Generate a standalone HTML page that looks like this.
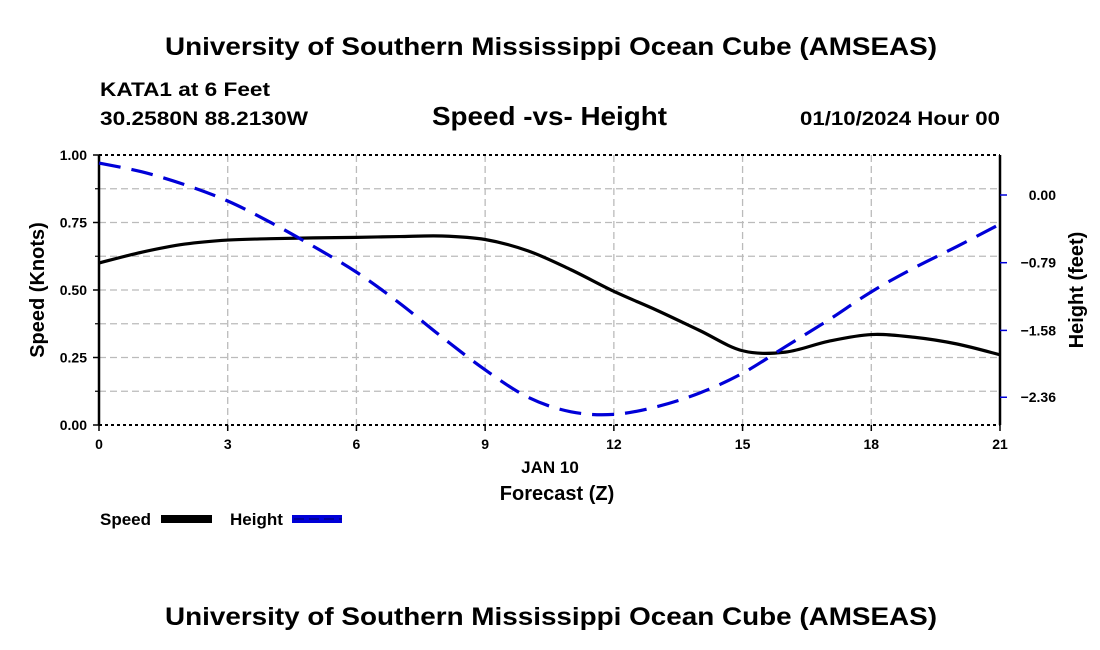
<!DOCTYPE html>
<html><head><meta charset="utf-8"><style>html,body{margin:0;padding:0;background:#fff}svg{display:block}text{font-family:"Liberation Sans",sans-serif;font-weight:bold;fill:#000}</style></head>
<body>
<svg id="chart" width="1100" height="650" viewBox="0 0 1100 650" xmlns="http://www.w3.org/2000/svg">
<rect width="1100" height="650" fill="#fff"/>
<text x="165" y="55" font-size="25" textLength="772" lengthAdjust="spacingAndGlyphs">University of Southern Mississippi Ocean Cube (AMSEAS)</text>
<text x="100" y="96" font-size="19" textLength="170" lengthAdjust="spacingAndGlyphs">KATA1 at 6 Feet</text>
<text x="100" y="125" font-size="19" textLength="208" lengthAdjust="spacingAndGlyphs">30.2580N  88.2130W</text>
<text x="432" y="125" font-size="26" textLength="235" lengthAdjust="spacingAndGlyphs">Speed -vs- Height</text>
<text x="800" y="125" font-size="19" textLength="200" lengthAdjust="spacingAndGlyphs">01/10/2024 Hour 00</text>
<g id="grid"></g>
<g id="axes"></g>
<g id="series"></g>
<text x="550" y="473" font-size="17" text-anchor="middle">JAN 10</text>
<text x="557" y="500" font-size="20" text-anchor="middle">Forecast (Z)</text>
<text transform="translate(44,290) rotate(-90)" font-size="20" text-anchor="middle">Speed (Knots)</text>
<text transform="translate(1083,290) rotate(-90)" font-size="20" text-anchor="middle">Height (feet)</text>
<g>
<text x="100" y="525" font-size="17">Speed</text>
<rect x="161" y="515" width="51" height="8" fill="#000"/>
<text x="230" y="525" font-size="17">Height</text>
<rect x="292" y="515" width="50" height="8" fill="#0000d8"/>
<line x1="294" y1="519" x2="342" y2="519" stroke="#000060" stroke-width="1" stroke-dasharray="10,5"/>
</g>
<text x="165" y="625" font-size="25" textLength="772" lengthAdjust="spacingAndGlyphs">University of Southern Mississippi Ocean Cube (AMSEAS)</text>
</svg>
<script>
const hours = [0,1,2,3,4,5,6,7,8,9,10,11,12,13,14,15,16,17,18,19,20,21];
const speed = [0.60,0.64,0.67,0.685,0.69,0.693,0.695,0.698,0.70,0.687,0.645,0.575,0.495,0.425,0.35,0.275,0.27,0.31,0.335,0.325,0.30,0.26];
const heightFt = [0.373,0.27,0.12,-0.07,-0.32,-0.6,-0.9,-1.26,-1.66,-2.04,-2.36,-2.53,-2.56,-2.47,-2.31,-2.08,-1.77,-1.46,-1.13,-0.85,-0.6,-0.34];
const xTicks = [0,3,6,9,12,15,18,21];
const leftTicks = ["0.00","0.25","0.50","0.75","1.00"];
const rightTicks = ["0.00","-0.79","-1.58","-2.36"];

const L=99,R=1000,T=155,B=425;
const xs=h=>L+(h-0)/21*(R-L);
const yl=v=>B-v*(B-T);
const yr=h=>195-h*(67.7/0.79);
const NS="http://www.w3.org/2000/svg";
function mk(tag,parent,attrs){const e=document.createElementNS(NS,tag);for(const k in attrs)e.setAttribute(k,attrs[k]);parent.appendChild(e);return e;}
const grid=document.getElementById('grid'),axes=document.getElementById('axes'),series=document.getElementById('series');
for(let i=1;i<8;i++){const y=yl(i*0.125);
 const g=mk('line',grid,{x1:L,x2:R,y1:y,y2:y,stroke:'#bbb','stroke-width':1.3,'stroke-dasharray':'7,4'});
 
 }
xTicks.forEach(h=>{if(h>0&&h<21){const g=mk('line',grid,{x1:xs(h),x2:xs(h),y1:T,y2:B,stroke:'#bbb','stroke-width':1.3,'stroke-dasharray':'7,4'});
 
 }
 const t=mk('text',axes,{x:xs(h),y:B+24,'font-size':14,'text-anchor':'middle'});t.textContent=h;
 
 
 mk('line',axes,{x1:xs(h),x2:xs(h),y1:B,y2:B+6,stroke:'#000','stroke-width':1.5});
});
[[T],[B]].forEach(([y])=>{const l=mk('line',axes,{x1:L,x2:R,y1:y,y2:y,stroke:'#000','stroke-width':2,'stroke-dasharray':'3,3'});
 
 });
mk('line',axes,{x1:L,x2:L,y1:T,y2:B,stroke:'#000','stroke-width':2.5});
mk('line',axes,{x1:R,x2:R,y1:T,y2:B,stroke:'#000','stroke-width':2.5});
leftTicks.forEach(s=>{const y=yl(parseFloat(s));
 mk('line',axes,{x1:L-6,x2:L,y1:y,y2:y,stroke:'#000','stroke-width':1.5});
 const t=mk('text',axes,{x:L-12,y:y+5,'font-size':14,'text-anchor':'end'});t.textContent=s;
 
 });
for(let i=1;i<8;i+=2){const y=yl(i*0.125);mk('line',axes,{x1:L-4,x2:L,y1:y,y2:y,stroke:'#000','stroke-width':1.2});}
rightTicks.forEach(s=>{const y=yr(parseFloat(s));
 mk('line',axes,{x1:R,x2:R+7,y1:y,y2:y,stroke:'#0000d8','stroke-width':1.5});
 const t=mk('text',axes,{x:1056,y:y+5,'font-size':14,'text-anchor':'end'});t.textContent=s.replace('-','\u2212');
 
 });
function smooth(pts){let d=`M${pts[0][0]},${pts[0][1]}`;
 for(let i=0;i<pts.length-1;i++){const p0=pts[Math.max(0,i-1)],p1=pts[i],p2=pts[i+1],p3=pts[Math.min(pts.length-1,i+2)];
  d+=` C${p1[0]+(p2[0]-p0[0])/6},${p1[1]+(p2[1]-p0[1])/6} ${p2[0]-(p3[0]-p1[0])/6},${p2[1]-(p3[1]-p1[1])/6} ${p2[0]},${p2[1]}`;}
 return d;}
const sp=mk('path',series,{d:smooth(hours.map((h,i)=>[xs(h),yl(speed[i])])),fill:'none',stroke:'#000','stroke-width':3.2});


const hp=mk('path',series,{d:smooth(hours.map((h,i)=>[xs(h),yr(heightFt[i])])),fill:'none',stroke:'#0000d8','stroke-width':3.2,'stroke-dasharray':'22,11'});


</script>
</body></html>
